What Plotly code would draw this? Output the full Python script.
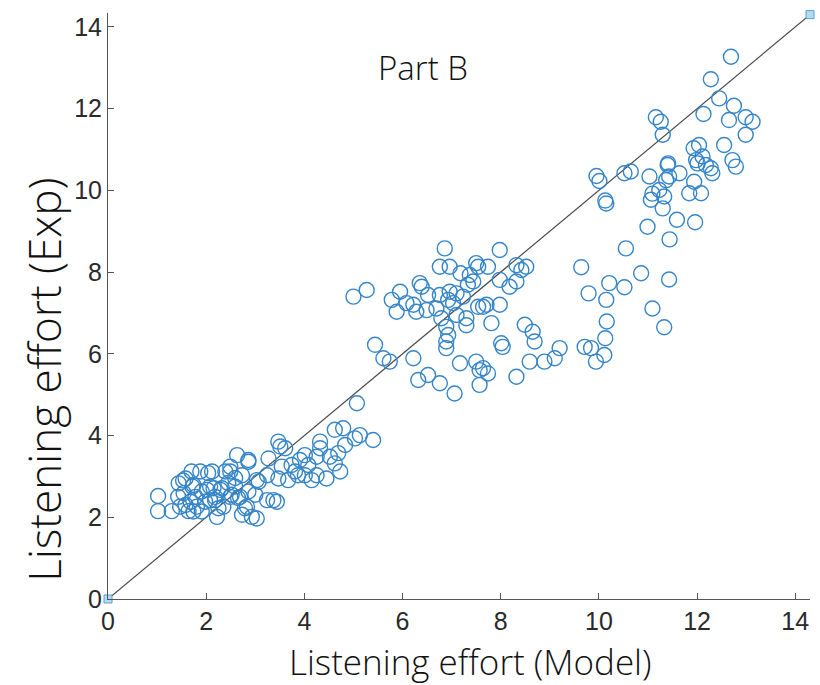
import plotly.graph_objects as go

model = [
    1.02, 1.02, 1.30, 1.43, 1.53, 1.58, 1.70, 1.72, 1.78, 1.64, 1.88, 1.91, 1.98, 2.04, 2.12, 2.08,
    2.18, 2.25, 1.91, 1.74, 2.39, 2.49, 2.63, 2.86, 2.45, 2.59, 2.73, 2.52, 2.65, 2.79, 2.86, 2.32,
    2.73, 2.93, 3.03, 3.37, 3.44, 2.83, 2.22, 2.59, 3.03, 2.35, 2.08, 2.49, 1.54, 1.44, 1.58, 1.74,
    2.02, 2.15, 2.29, 2.49, 2.69, 2.18, 1.68, 1.81, 1.47,
    5.07, 4.62, 4.79, 5.13, 5.40, 5.03, 3.47, 3.51, 3.61, 4.32, 4.32, 4.25, 4.01, 3.91, 4.08, 4.25,
    4.01, 3.81, 3.74, 4.52, 4.69, 4.83, 4.73, 4.62, 4.45, 3.27, 3.24, 3.54, 3.47, 3.07, 2.86, 3.24,
    3.00, 3.67, 3.87, 4.15,
    6.86, 7.98, 6.76, 6.96, 7.50, 7.54, 7.74, 7.18, 7.37, 7.44, 7.33, 8.32, 8.52, 8.42, 7.98, 8.18,
    6.35, 6.39, 5.27, 5.00, 5.95, 5.78, 6.52, 6.76, 6.96, 7.10, 7.23, 6.08, 6.22, 5.88, 6.28, 6.49,
    6.69, 6.93, 7.03, 6.79, 7.10, 7.30, 7.54, 7.64, 7.71, 7.98, 7.81, 6.89, 6.93, 7.30, 6.89, 6.89,
    8.01, 8.49, 8.65, 5.44, 8.69, 8.32, 5.61, 5.74, 6.22, 6.32, 6.52, 6.76, 7.06, 7.17, 7.50, 7.57,
    7.64, 7.74, 7.57, 8.04, 8.32, 8.59,
    10.55, 11.44, 9.64, 10.86, 11.43, 10.21, 10.52, 9.79, 10.15, 11.09, 10.16, 11.33, 10.13, 9.20,
    9.71, 9.84, 10.11, 9.94, 8.89, 9.10,
    10.99, 11.59, 11.96, 10.52, 10.65, 11.03, 11.40, 11.43, 11.64, 11.09, 11.23, 11.33, 11.06, 11.30,
    11.94, 11.84, 12.08, 12.01, 12.18, 12.31, 12.28, 12.79, 10.13, 10.15, 12.69, 12.28, 12.45, 12.75,
    12.13, 12.65, 12.99, 13.13, 12.99, 11.16, 11.26, 11.30, 11.93, 12.04, 12.55, 11.98, 12.11, 12.72,
    11.41, 11.37, 9.95, 10.01,
]
experiment = [
    2.52, 2.15, 2.15, 2.50, 2.90, 2.30, 3.12, 2.75, 2.50, 2.15, 3.12, 2.63, 2.38, 3.08, 3.12, 2.75,
    2.50, 2.22, 2.14, 2.14, 3.12, 3.24, 3.52, 3.40, 2.84, 2.96, 3.03, 2.55, 2.47, 2.22, 2.63, 2.71,
    2.06, 2.01, 1.97, 2.42, 2.38, 2.26, 2.01, 2.75, 2.91, 2.26, 2.42, 3.12, 2.59, 2.83, 2.95, 2.79,
    2.67, 2.71, 2.67, 2.50, 2.50, 2.42, 2.38, 2.26, 2.26,
    4.79, 4.14, 4.18, 4.01, 3.89, 3.93, 3.85, 3.73, 3.69, 3.85, 3.69, 3.48, 3.52, 3.40, 3.28, 3.03,
    3.03, 3.12, 3.28, 3.48, 3.57, 3.77, 3.12, 3.32, 2.95, 3.44, 3.03, 3.24, 2.95, 2.87, 3.36, 2.42,
    2.55, 2.91, 3.03, 2.91,
    8.58, 8.54, 8.13, 8.13, 8.22, 8.13, 8.13, 7.97, 7.93, 7.77, 7.69, 8.17, 8.13, 8.05, 7.81, 7.64,
    7.73, 7.64, 7.56, 7.40, 7.52, 7.32, 7.44, 7.44, 7.52, 7.48, 7.40, 7.24, 7.20, 7.03, 7.03, 7.07,
    7.11, 7.32, 7.24, 6.87, 6.95, 6.87, 7.15, 7.15, 7.20, 7.20, 6.75, 6.66, 6.46, 6.70, 6.30, 6.14,
    6.26, 6.71, 6.54, 6.22, 6.30, 7.77, 5.89, 5.81, 5.89, 5.36, 5.48, 5.28, 5.03, 5.77, 5.81, 5.60,
    5.65, 5.52, 5.24, 6.17, 5.44, 5.81,
    8.58, 8.80, 8.12, 7.97, 7.82, 7.73, 7.63, 7.48, 7.32, 7.11, 6.79, 6.65, 6.38, 6.14,
    6.17, 6.14, 5.97, 5.81, 5.81, 5.89,
    9.11, 9.28, 9.22, 10.42, 10.46, 10.34, 10.62, 10.34, 10.42, 9.92, 10.01, 9.85, 9.77, 9.56,
    10.21, 9.93, 9.93, 10.66, 10.62, 10.42, 10.54, 10.58, 9.75, 9.68, 13.27, 12.72, 12.25, 12.07,
    11.87, 11.72, 11.79, 11.68, 11.36, 11.79, 11.68, 11.36, 11.03, 11.11, 11.11, 10.74, 10.83, 10.74,
    10.66, 10.25, 10.35, 10.23,
]

# Identity reference line end points
identity_x = [0, 14.3]
identity_y = [0, 14.3]

tick_vals = [0, 2, 4, 6, 8, 10, 12, 14]
tick_text = ["0", "2", "4", "6", "8", "10", "12", "14"]

fig = go.Figure()

fig.add_trace(go.Scatter(
    x=identity_x, y=identity_y, mode="lines",
    line=dict(color="#4a4a4a", width=1.2),
    showlegend=False, hoverinfo="skip",
))

fig.add_trace(go.Scatter(
    x=model, y=experiment, mode="markers",
    marker=dict(symbol="circle-open", size=15, color="#3585c8",
                line=dict(width=1.4, color="#3585c8")),
    showlegend=False,
))

fig.add_trace(go.Scatter(
    x=identity_x, y=identity_y, mode="markers",
    marker=dict(symbol="square", size=8, color="#b3dcf2",
                line=dict(width=1, color="#5a9fd0")),
    cliponaxis=False, showlegend=False, hoverinfo="skip",
))

tick_font = dict(family="Liberation Sans Narrow, Liberation Sans, Arial", size=25, color="#2a2a2a")
title_family = "Open Sans, Noto Sans, sans-serif"

axis_common = dict(
    tickvals=tick_vals, ticktext=tick_text,
    ticks="inside", ticklen=6, tickwidth=1, tickcolor="#555",
    showline=True, linecolor="#555", linewidth=1,
    showgrid=False, zeroline=False, tickfont=tick_font,
)

fig.update_layout(
    width=820, height=685,
    margin=dict(l=108, r=10, t=13, b=86),
    paper_bgcolor="white", plot_bgcolor="white",
    xaxis=dict(range=[0, 14.3], **axis_common),
    yaxis=dict(range=[0, 14.34], **axis_common),
    annotations=[
        dict(x=6.42, y=13.0, xref="x", yref="y", text="Part B", showarrow=False,
             font=dict(family=title_family, size=33, color="#111", weight=300)),
        dict(x=0.5157, y=-0.106, xref="paper", yref="paper", text="Listening effort (Model)",
             showarrow=False, xanchor="center", yanchor="middle",
             font=dict(family=title_family, size=35, color="#111", weight=300)),
        dict(x=-0.0906, y=0.375, xref="paper", yref="paper", text="Listening effort (Exp)",
             showarrow=False, xanchor="center", yanchor="middle", textangle=-90,
             font=dict(family=title_family, size=44, color="#111", weight=300)),
    ],
)

fig.write_html("out.html")
